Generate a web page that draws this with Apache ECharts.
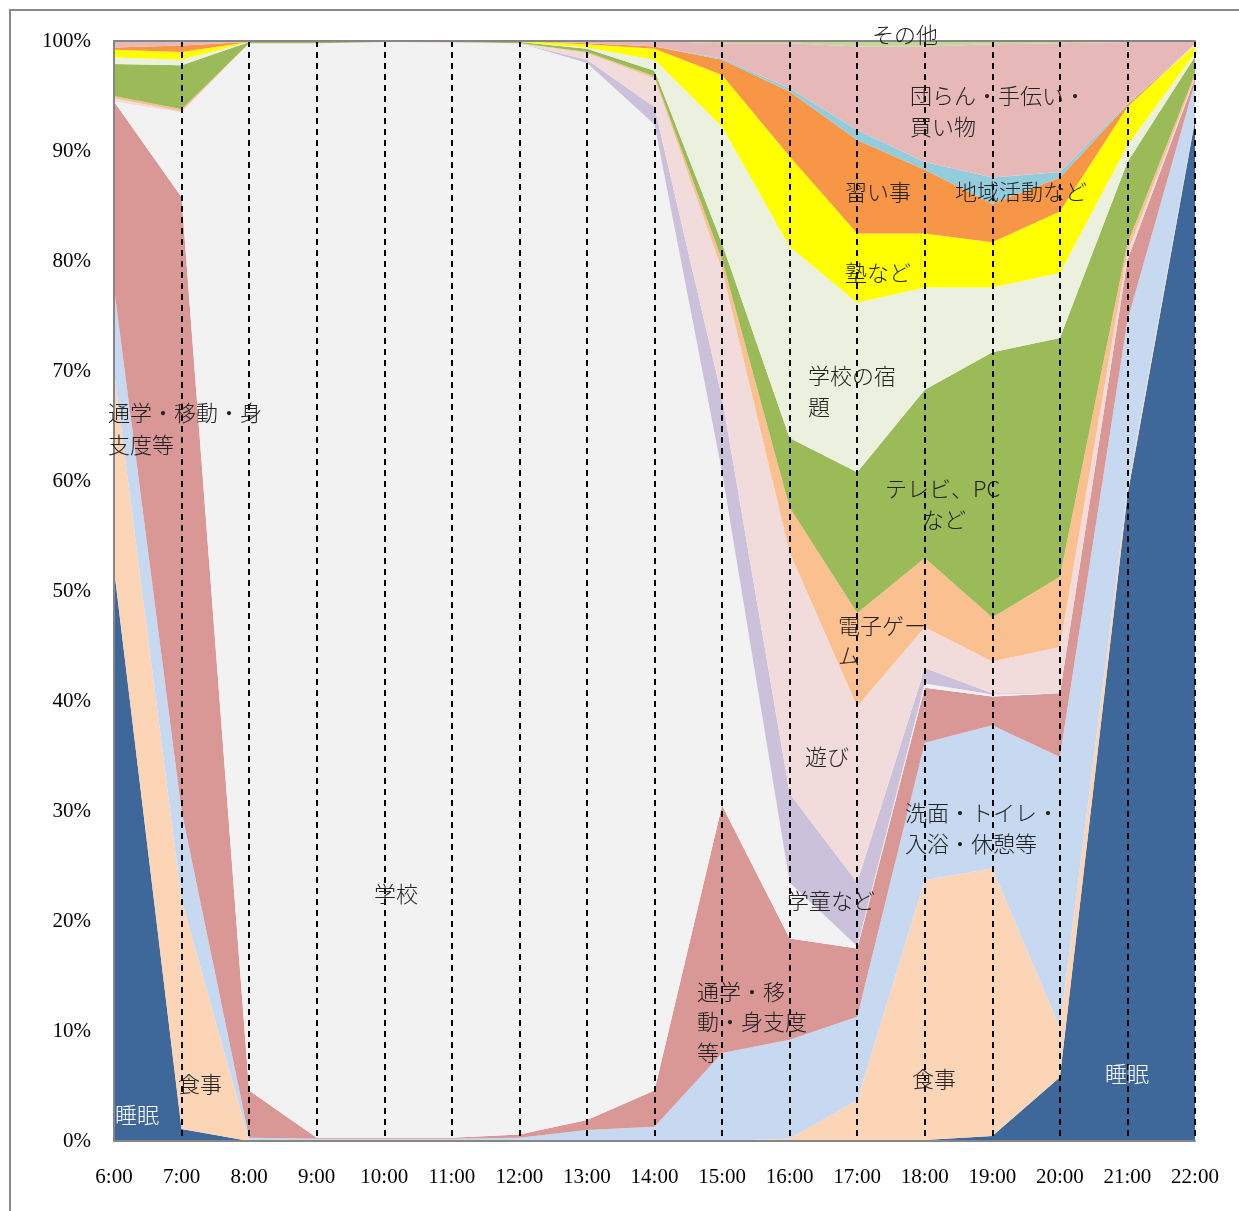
<!DOCTYPE html>
<html>
<head>
<meta charset="utf-8">
<script src="https://cdn.jsdelivr.net/npm/echarts@6/dist/echarts.min.js"></script>
<style>
  html, body { margin: 0; padding: 0; background: #fff; }
  #chart { width: 1239px; height: 1211px; }
</style>
</head>
<body>
<div id="chart"></div>
<script>
// time slots 6:00 - 22:00
var hours = ['6:00', '7:00', '8:00', '9:00', '10:00', '11:00', '12:00', '13:00', '14:00',
  '15:00', '16:00', '17:00', '18:00', '19:00', '20:00', '21:00', '22:00'];

// share of children per activity (%), bottom of stack first
var sleep    = [52.0, 1.1, 0, 0, 0, 0, 0, 0, 0, 0, 0, 0.1, 0.1, 0.45, 5.8, 58.7, 92.8];
var meal     = [18.0, 20.8, 0, 0, 0, 0, 0, 0, 0, 0, 0.2, 3.6, 23.6, 24.35, 4.5, 0.5, 0.2];
var bath     = [7.6, 8.1, 0.3, 0.2, 0.2, 0.2, 0.3, 1.0, 1.3, 8.0, 9.0, 7.6, 12.5, 13.0, 24.6, 15.4, 3.2];
var commute  = [16.9, 55.8, 4.3, 0.1, 0.1, 0.1, 0.3, 0.9, 3.3, 22.5, 9.2, 6.2, 5.0, 2.6, 5.8, 5.5, 0.4];
var school   = [0, 7.7, 95.2, 99.5, 99.6, 99.5, 99.2, 96.1, 87.8, 30.3, 5.1, 0.2, 0.4, 0.2, 0, 0, 0];
var afterCare= [0, 0, 0, 0, 0, 0, 0, 0.3, 1.6, 6.8, 8.1, 5.8, 1.4, 0.1, 0, 0, 0];
var play     = [0.3, 0.1, 0, 0, 0, 0.1, 0, 0.6, 2.6, 11.6, 21.9, 16.0, 3.7, 2.9, 4.2, 0.7, 0.1];
var game     = [0.2, 0.2, 0, 0, 0, 0, 0, 0.1, 0.2, 0.9, 4.1, 8.5, 6.3, 4.0, 6.4, 0.8, 0.3];
var tv       = [2.9, 4.0, 0.1, 0.1, 0, 0.1, 0.1, 0.3, 0.5, 1.5, 6.3, 12.8, 15.3, 24.1, 21.7, 7.4, 1.6];
var homework = [0.6, 0.5, 0, 0, 0, 0, 0, 0.1, 1.0, 10.6, 17.4, 15.4, 9.3, 5.9, 5.9, 1.5, 0.3];
var cram     = [0.7, 0.7, 0, 0, 0, 0, 0.1, 0.3, 1.0, 4.7, 8.2, 6.3, 4.9, 4.1, 5.6, 3.5, 0.7];
var lessons  = [0.2, 0.6, 0, 0, 0, 0, 0, 0.1, 0.2, 1.4, 5.9, 8.5, 5.8, 3.5, 3.1, 0.2, 0.1];
var community= [0, 0, 0, 0, 0, 0, 0, 0, 0, 0.1, 0.3, 0.9, 0.7, 2.4, 0.5, 0.1, 0];
var family   = [0.6, 0.4, 0.1, 0.1, 0.1, 0, 0, 0.2, 0.5, 1.4, 4.1, 7.6, 10.5, 12.1, 11.7, 5.6, 0.3];
var other    = [0, 0, 0, 0, 0, 0, 0, 0, 0, 0.2, 0.2, 0.5, 0.5, 0.35, 0.2, 0.1, 0];

var layers = [
  { name: '睡眠', data: sleep, color: '#3E6899' },
  { name: '食事', data: meal, color: '#FBD5B5' },
  { name: '洗面・トイレ・入浴・休憩等', data: bath, color: '#C6D9F1' },
  { name: '通学・移動・身支度等', data: commute, color: '#D99795' },
  { name: '学校', data: school, color: '#F2F2F2' },
  { name: '学童など', data: afterCare, color: '#CCC1DA' },
  { name: '遊び', data: play, color: '#F2DCDB' },
  { name: '電子ゲーム', data: game, color: '#FAC090' },
  { name: 'テレビ、PCなど', data: tv, color: '#9BBB59' },
  { name: '学校の宿題', data: homework, color: '#EBF1DE' },
  { name: '塾など', data: cram, color: '#FFFF00' },
  { name: '習い事', data: lessons, color: '#F79646' },
  { name: '地域活動など', data: community, color: '#93CDDD' },
  { name: '団らん・手伝い・買い物', data: family, color: '#E6B9B8' },
  { name: 'その他', data: other, color: '#C3D69B' }
];

// in-chart labels: [text, left x, middle y, colour]
var labels = [
  ['その他', 872, 37, '#222'],
  ['団らん・手伝い・', 910, 98, '#222'],
  ['買い物', 910, 129, '#222'],
  ['習い事', 845, 194, '#222'],
  ['地域活動など', 955, 194, '#222'],
  ['塾など', 845, 275, '#222'],
  ['学校の宿', 808, 378, '#222'],
  ['題', 808, 409, '#222'],
  ['テレビ、PC', 885, 491, '#222'],
  ['など', 922, 522, '#222'],
  ['電子ゲー', 838, 628, '#222'],
  ['ム', 838, 658, '#222'],
  ['遊び', 805, 759, '#222'],
  ['洗面・トイレ・', 905, 815, '#222'],
  ['入浴・休憩等', 905, 846, '#222'],
  ['学童など', 787, 903, '#222'],
  ['通学・移', 697, 994, '#222'],
  ['動・身支度', 697, 1024, '#222'],
  ['等', 697, 1055, '#222'],
  ['食事', 178, 1086, '#222'],
  ['食事', 912, 1081, '#222'],
  ['睡眠', 115, 1117, '#fff'],
  ['睡眠', 1105, 1076, '#fff'],
  ['学校', 374, 896, '#222'],
  ['通学・移動・身', 108, 415, '#222'],
  ['支度等', 108, 447, '#222']
];

var chart = echarts.init(document.getElementById('chart'));

var series = layers.map(function (l) {
  return {
    name: l.name,
    type: 'line',
    stack: 'total',
    data: l.data,
    showSymbol: false,
    symbol: 'none',
    lineStyle: { width: 0 },
    areaStyle: { color: l.color, opacity: 1 },
    itemStyle: { color: l.color },
    animation: false
  };
});

var graphic = labels.map(function (t) {
  return {
    type: 'text',
    left: t[1],
    top: t[2] - 13,
    z: 100,
    style: {
      text: t[0],
      fill: t[3],
      font: '300 22px "Noto Sans CJK JP"'
    }
  };
});
// outer frame
graphic.push({
  type: 'rect',
  shape: { x: 10, y: 10, width: 1240, height: 1220 },
  style: { fill: 'none', stroke: '#8a8a8a', lineWidth: 2 },
  z: 100
});

chart.setOption({
  backgroundColor: '#fff',
  animation: false,
  grid: { left: 114, right: 44, top: 41, bottom: 70 },
  xAxis: [{
    type: 'category',
    data: hours,
    boundaryGap: false,
    z: 10,
    axisLine: { lineStyle: { color: '#868686', width: 2 } },
    axisTick: { show: false },
    axisLabel: {
      color: '#000',
      fontFamily: 'Liberation Serif',
      fontSize: 21,
      margin: 26
    },
    splitLine: {
      show: true,
      interval: function (i) { return i > 0; },
      lineStyle: { color: '#000', width: 2, type: [6, 5] }
    }
  }, {
    type: 'category',
    data: hours,
    position: 'top',
    boundaryGap: false,
    z: 10,
    axisLine: { lineStyle: { color: '#868686', width: 2 } },
    axisTick: { show: false },
    axisLabel: { show: false },
    splitLine: { show: false }
  }],
  yAxis: {
    type: 'value',
    min: 0,
    max: 100,
    interval: 10,
    z: 10,
    axisLine: { show: true, lineStyle: { color: '#868686', width: 2 } },
    axisTick: { show: false },
    splitLine: { show: false },
    axisLabel: {
      formatter: '{value}%',
      color: '#000',
      fontFamily: 'Liberation Serif',
      fontSize: 21,
      margin: 23
    }
  },
  graphic: graphic,
  series: series
});
</script>
</body>
</html>
